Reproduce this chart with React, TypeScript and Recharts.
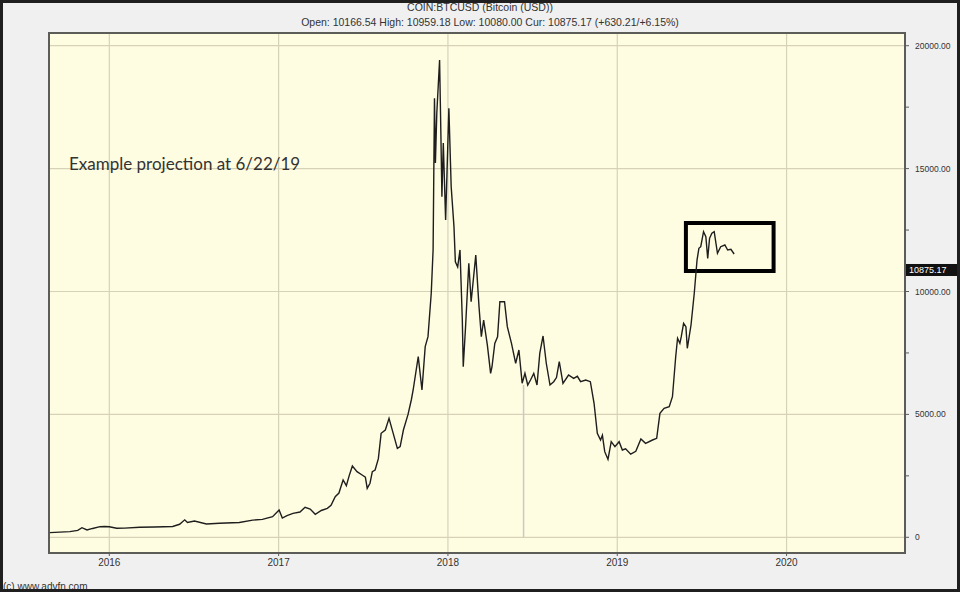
import { LineChart, Line, XAxis, YAxis, CartesianGrid, ReferenceLine, ReferenceArea } from 'recharts';

// daily closes (approx)
const DATES = [
  '2015-08-26', '2015-09-16', '2015-10-08', '2015-10-25', '2015-11-03', '2015-11-14', '2015-11-26', '2015-12-12', '2015-12-22',
  '2016-01-01', '2016-01-17', '2016-02-03', '2016-03-07', '2016-04-08', '2016-05-17', '2016-06-01', '2016-06-12', '2016-06-18',
  '2016-07-03', '2016-07-29', '2016-08-26', '2016-10-08', '2016-11-06', '2016-11-27', '2016-12-19',
  '2017-01-02', '2017-01-09', '2017-01-19', '2017-02-01', '2017-02-16', '2017-02-27', '2017-03-10', '2017-03-21', '2017-04-03',
  '2017-04-16', '2017-04-24', '2017-05-03', '2017-05-11', '2017-05-20', '2017-05-27', '2017-06-02', '2017-06-09', '2017-06-19',
  '2017-06-30', '2017-07-07', '2017-07-11', '2017-07-17', '2017-07-22', '2017-07-28', '2017-08-04', '2017-08-10', '2017-08-19',
  '2017-08-27', '2017-09-05', '2017-09-14', '2017-09-20', '2017-09-27', '2017-10-07', '2017-10-14', '2017-10-18', '2017-10-29',
  '2017-11-06', '2017-11-13', '2017-11-19', '2017-11-26', '2017-11-30', '2017-12-03', '2017-12-05', '2017-12-08', '2017-12-14',
  '2017-12-17', '2017-12-19', '2017-12-22', '2017-12-27',
  '2018-01-03', '2018-01-08', '2018-01-14', '2018-01-17', '2018-01-22', '2018-01-27', '2018-02-01', '2018-02-03', '2018-02-08',
  '2018-02-15', '2018-02-20', '2018-03-02', '2018-03-09', '2018-03-14', '2018-03-19', '2018-03-27', '2018-04-03', '2018-04-06',
  '2018-04-12', '2018-04-18', '2018-04-23', '2018-05-03', '2018-05-09', '2018-05-18', '2018-05-27', '2018-06-03', '2018-06-10',
  '2018-06-16', '2018-06-22', '2018-06-28', '2018-07-05', '2018-07-12', '2018-07-18', '2018-07-25', '2018-08-01', '2018-08-09',
  '2018-08-17', '2018-08-23', '2018-08-29', '2018-09-06', '2018-09-18', '2018-09-29', '2018-10-07', '2018-10-14', '2018-10-25',
  '2018-11-04', '2018-11-12', '2018-11-19', '2018-11-26', '2018-11-30', '2018-12-05', '2018-12-12', '2018-12-19', '2018-12-27',
  '2019-01-05', '2019-01-12', '2019-01-19', '2019-01-30', '2019-02-10', '2019-02-21', '2019-03-03', '2019-03-18', '2019-03-27',
  '2019-04-03', '2019-04-12', '2019-04-23', '2019-04-30', '2019-05-07', '2019-05-11', '2019-05-16', '2019-05-19', '2019-05-24',
  '2019-05-29', '2019-06-01', '2019-06-09', '2019-06-16', '2019-06-22', '2019-06-26', '2019-06-30', '2019-07-06', '2019-07-11',
  '2019-07-15', '2019-07-19', '2019-07-24', '2019-07-29', '2019-08-05', '2019-08-12', '2019-08-21', '2019-08-27', '2019-09-03',
  '2019-09-10',
];

const PRICES = [
  190, 210, 230, 280, 390, 300, 360, 432, 440,
  430, 370, 375, 410, 420, 440, 530, 710, 600,
  660, 540, 570, 600, 700, 730, 840,
  1110, 780, 880, 976, 1030, 1220, 1150, 936, 1090,
  1180, 1300, 1652, 1800, 2331, 2100, 2500, 2900, 2670,
  2535, 2450, 1993, 2200, 2670, 2738, 3200, 4230, 4365,
  4840, 4230, 3620, 3690, 4365, 5000, 5586, 5993, 7348,
  5993, 7755, 8162, 9927, 11690, 17860, 15230, 17260, 19420,
  16170, 13860, 16040, 12910,
  17450, 14260, 12640, 11210, 11000, 11690, 8840, 6940, 8568,
  11150, 9585, 11480, 9380, 8160, 8840, 7820, 6670, 6940,
  7890, 8160, 9585, 9585, 8568, 7890, 7080, 7620, 6265,
  6670, 6196, 6400, 6670, 6196, 7485, 8190, 7080, 6196,
  6330, 6500, 7145, 6265, 6603, 6468, 6550, 6330, 6400,
  6330, 5452, 4231, 3960, 4150, 3483, 3174, 3889, 3686,
  3889, 3552, 3600, 3380, 3500, 4000, 3824, 3958, 4028,
  5045, 5248, 5316, 5720, 7348, 8096, 7890, 8160, 8706,
  8568, 7690, 8637, 9927, 11280, 11757, 11823, 12433, 12230,
  11350, 12164, 12368, 12433, 11554, 11823, 11892, 11688, 11715,
  11525,
];

const YEAR_TICKS = [2016, 2017, 2018, 2019, 2020];
const PRICE_TICKS = [0, 2500, 5000, 7500, 10000, 12500, 15000, 17500, 20000];
const PRICE_GRID = [0, 5000, 10000, 15000, 20000];
const CUR_PRICE = 10875.17;

// annotation: projection box and the bad tick in June 2018
const BOX_FROM = '2019-05-29';
const BOX_TO = '2019-12-04';
const BOX_LOW = 10834;
const BOX_HIGH = 12787;
const GLITCH_DATE = '2018-06-13';
const GLITCH_TOP = 6200;

const TITLE = 'COIN:BTCUSD (Bitcoin (USD))';
const SUBTITLE = 'Open: 10166.54 High: 10959.18 Low: 10080.00 Cur: 10875.17 (+630.21/+6.15%)';

function toYear(s: string) {
  const [y, m, d] = s.split('-').map(Number);
  const start = Date.UTC(y, 0, 1);
  const end = Date.UTC(y + 1, 0, 1);
  return y + (Date.UTC(y, m - 1, d) - start) / (end - start);
}

const data = DATES.map((d, i) => ({ t: toYear(d), price: PRICES[i] }));

const X_DOMAIN = [toYear('2015-08-24'), toYear('2020-09-13')];
const Y_DOMAIN = [-639, 20517];

const BORDER = '#5c5c58';

function CurLabel(props: any) {
  const vb = props.viewBox || {};
  const x = (vb.x ?? 0) + (vb.width ?? 0) + 1;
  const y = vb.y ?? 0;
  return (
    <g>
      <rect x={x} y={y - 6} width={52} height={12} fill="#111" />
      <text x={x + 3} y={y + 3.5} fill="#fff" fontSize={9} fontFamily="Liberation Sans, Arial, sans-serif">
        {CUR_PRICE.toFixed(2)}
      </text>
    </g>
  );
}

export default function App() {
  return (
    <div
      style={{
        position: 'fixed',
        left: 0,
        top: 0,
        width: 960,
        height: 592,
        background: '#f0f0f0',
        overflow: 'hidden',
        fontFamily: '"Liberation Sans", Arial, sans-serif',
        color: '#333',
      }}
    >
      <div style={{ position: 'absolute', left: 0, width: 960, top: 1, textAlign: 'center', fontSize: 10.5, lineHeight: '12px' }}>
        <div>{TITLE}</div>
        <div style={{ marginTop: 3, marginLeft: 20 }}>{SUBTITLE}</div>
      </div>

      <LineChart
        width={960}
        height={592}
        data={data}
        margin={{ top: 33, right: 5, bottom: 9, left: 49 }}
        style={{ position: 'absolute', left: 0, top: 0 }}
      >
        <CartesianGrid
          xAxisId="b"
          yAxisId="r"
          fill="#fffde1"
          stroke="#d5d2b9"
          strokeWidth={1.2}
          horizontalValues={PRICE_GRID}
          verticalValues={YEAR_TICKS}
        />
        <XAxis
          xAxisId="b"
          dataKey="t"
          type="number"
          domain={X_DOMAIN}
          allowDataOverflow
          ticks={YEAR_TICKS}
          tickFormatter={(v) => String(v)}
          height={30}
          axisLine={{ stroke: BORDER, strokeWidth: 2 }}
          tickLine={{ stroke: BORDER }}
          tickSize={3}
          tickMargin={3}
          tick={{ fontSize: 10, fill: '#333' }}
        />
        <YAxis
          yAxisId="r"
          orientation="right"
          type="number"
          domain={Y_DOMAIN}
          allowDataOverflow
          ticks={PRICE_TICKS}
          tickFormatter={(v) => (v % 5000 !== 0 ? '' : v === 0 ? '0' : v.toFixed(2))}
          width={50}
          axisLine={{ stroke: BORDER, strokeWidth: 2 }}
          tickLine={{ stroke: BORDER }}
          tickSize={4}
          tickMargin={6}
          tick={{ fontSize: 8.5, fill: '#333', textAnchor: 'start' }}
        />
        <ReferenceLine
          xAxisId="b"
          yAxisId="r"
          segment={[
            { x: toYear(GLITCH_DATE), y: 0 },
            { x: toYear(GLITCH_DATE), y: GLITCH_TOP },
          ]}
          stroke="#c9c9c4"
          strokeWidth={1.5}
        />
        <Line
          xAxisId="b"
          yAxisId="r"
          type="linear"
          dataKey="price"
          stroke="#1e1e1e"
          strokeWidth={1.4}
          dot={false}
          isAnimationActive={false}
        />
        <ReferenceArea
          xAxisId="b"
          yAxisId="r"
          x1={toYear(BOX_FROM)}
          x2={toYear(BOX_TO)}
          y1={BOX_LOW}
          y2={BOX_HIGH}
          fill="none"
          fillOpacity={0}
          stroke="#000"
          strokeWidth={4}
        />
        {/* plot frame */}
        <ReferenceArea
          xAxisId="b"
          yAxisId="r"
          x1={X_DOMAIN[0]}
          x2={X_DOMAIN[1]}
          y1={Y_DOMAIN[0]}
          y2={Y_DOMAIN[1]}
          ifOverflow="visible"
          fill="none"
          fillOpacity={0}
          stroke={BORDER}
          strokeWidth={2}
        />
        <ReferenceLine
          xAxisId="b"
          yAxisId="r"
          y={CUR_PRICE}
          stroke="none"
          label={<CurLabel />}
        />
      </LineChart>

      <div
        style={{
          position: 'absolute',
          left: 69,
          top: 153,
          fontFamily: 'Lato, "Open Sans", sans-serif',
          fontSize: 17,
          color: '#333',
          whiteSpace: 'nowrap',
        }}
      >
        Example projection at 6/22/19
      </div>

      <div style={{ position: 'absolute', left: 3, top: 581, fontSize: 10, color: '#333' }}>(c) www.advfn.com</div>

      <div
        style={{
          position: 'absolute',
          left: 0,
          top: 0,
          width: 960,
          height: 592,
          boxSizing: 'border-box',
          border: '3px solid #1f1f1f',
          pointerEvents: 'none',
        }}
      />
    </div>
  );
}
